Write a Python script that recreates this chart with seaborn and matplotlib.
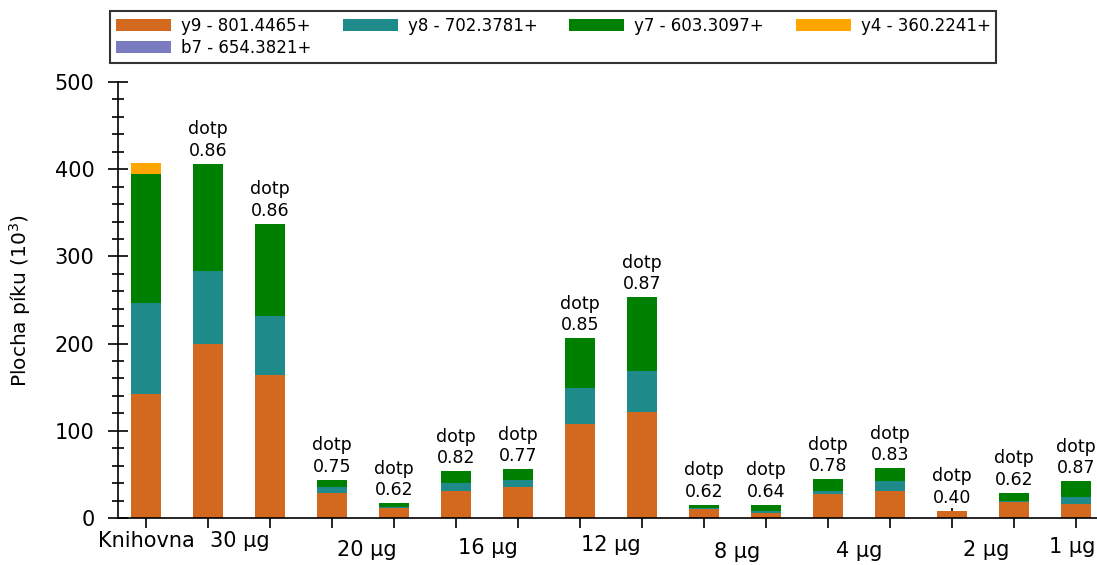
import numpy as np
import matplotlib
matplotlib.use("Agg")
import matplotlib.pyplot as plt
import matplotlib.transforms as mtransforms
from matplotlib.patches import Patch
from matplotlib.ticker import MultipleLocator
import seaborn as sns

# ---- data (peak areas, 10^3) ----
y9 = [142, 200, 164, 29, 11, 31, 36, 108, 121, 10, 6, 28, 31, 8, 18.5, 16]
y8 = [105, 83, 68, 6, 2, 9, 8, 41, 48, 1.5, 2, 2.5, 11, 0, 1, 8]
y7 = [148, 123, 105, 8.5, 4, 13.5, 12, 57, 84, 3.5, 7, 14, 15, 0, 9.5, 18]
y4 = [12.5, 0, 0, 0, 0, 0, 0, 0, 0, 0, 0, 0, 0, 0, 0, 0]
b7 = [0, 0, 0, 0, 0, 0, 0, 0, 0, 0, 0, 0, 0, 0, 0, 0]

series_names = ["y9 - 801.4465+", "y8 - 702.3781+", "y7 - 603.3097+",
                "y4 - 360.2241+", "b7 - 654.3821+"]
series_colors = ["#D2691E", "#1F8A8A", "#008000", "#FFA500", "#7B7BC0"]

# dot product shown above each bar (first bar = library, no label)
dotp = [None, 0.86, 0.86, 0.75, 0.62, 0.82, 0.77, 0.85, 0.87,
        0.62, 0.64, 0.78, 0.83, 0.40, 0.62, 0.87]

# group labels under the x axis and where they sit (bar index units)
group_labels = ["Knihovna", "30 µg", "20 µg", "16 µg", "12 µg",
                "8 µg", "4 µg", "2 µg", "1 µg"]
group_pos = [0, 1.52, 3.56, 5.52, 7.5, 9.53, 11.5, 13.55, 14.94]
group_ypix = [541, 541, 550, 548, 545, 552, 551, 550, 547]

sns.set_style("ticks")
plt.rcParams['font.family'] = ['DejaVu Sans']
plt.rcParams['text.color'] = 'black'
plt.rcParams['axes.labelcolor'] = 'black'
plt.rcParams['axes.edgecolor'] = 'black'
plt.rcParams['xtick.color'] = 'black'
plt.rcParams['ytick.color'] = 'black'

fig = plt.figure(figsize=(10.97, 5.65), dpi=100)
ax = fig.add_axes([118 / 1097, 1 - 518 / 565, 979 / 1097, 436 / 565])

idx = np.arange(len(y9))
layers = np.array([y9, y8, y7, y4, b7], dtype=float)
tops = np.cumsum(layers, axis=0)

# draw cumulative totals from the top layer down so they stack
for k in range(len(layers) - 1, -1, -1):
    sns.barplot(x=idx, y=tops[k], color=series_colors[k], saturation=1,
                width=0.49, linewidth=0, ax=ax)

total = tops[-1]
for i, v in enumerate(dotp):
    if v is None:
        continue
    ax.annotate("dotp\n%.2f" % v, xy=(i, total[i]), xytext=(0, 3),
                textcoords="offset points", ha="center", va="bottom",
                fontsize=12.5, linespacing=1.25)

ax.set_xlim(-0.45, 15.34)
ax.set_ylim(0, 500)
ax.set_xticks(idx)
ax.set_xticklabels([])
ax.set_xlabel("")
ax.yaxis.set_major_locator(MultipleLocator(100))
ax.yaxis.set_minor_locator(MultipleLocator(20))
ax.tick_params(axis="x", direction="inout", length=14, width=1.2)
ax.tick_params(axis="y", which="major", direction="inout", length=14,
               width=1.2, labelsize=15, pad=10)
ax.tick_params(axis="y", which="minor", direction="inout", length=8,
               width=1.2)
sns.despine(ax=ax)
ax.spines["left"].set_linewidth(1.2)
ax.spines["bottom"].set_linewidth(1.2)

ax.set_ylabel("Plocha píku (10$^3$)", fontsize=14.5)
ax.yaxis.set_label_coords(-0.087, 0.5)

trans = mtransforms.blended_transform_factory(ax.transData, ax.transAxes)
for lab, xp, yp in zip(group_labels, group_pos, group_ypix):
    ax.text(xp, (518 - yp) / 436, lab, transform=trans, ha="center",
            va="center", fontsize=15)

# legend is filled column by column, so reorder to read row by row
handles = [Patch(facecolor=c, edgecolor="none") for c in series_colors]
order = [0, 4, 1, 2, 3]
leg = fig.legend([handles[i] for i in order], [series_names[i] for i in order],
                 loc="upper left", bbox_to_anchor=(110 / 1097, 1 - 11 / 565),
                 ncol=4, fontsize=12, frameon=True, fancybox=False,
                 handlelength=3.3, handleheight=0.75, handletextpad=0.6,
                 columnspacing=1.9, borderpad=0.35, labelspacing=0.25,
                 borderaxespad=0)
leg.get_frame().set_edgecolor("black")
leg.get_frame().set_linewidth(1.5)

fig.savefig("out.png", dpi=100)
